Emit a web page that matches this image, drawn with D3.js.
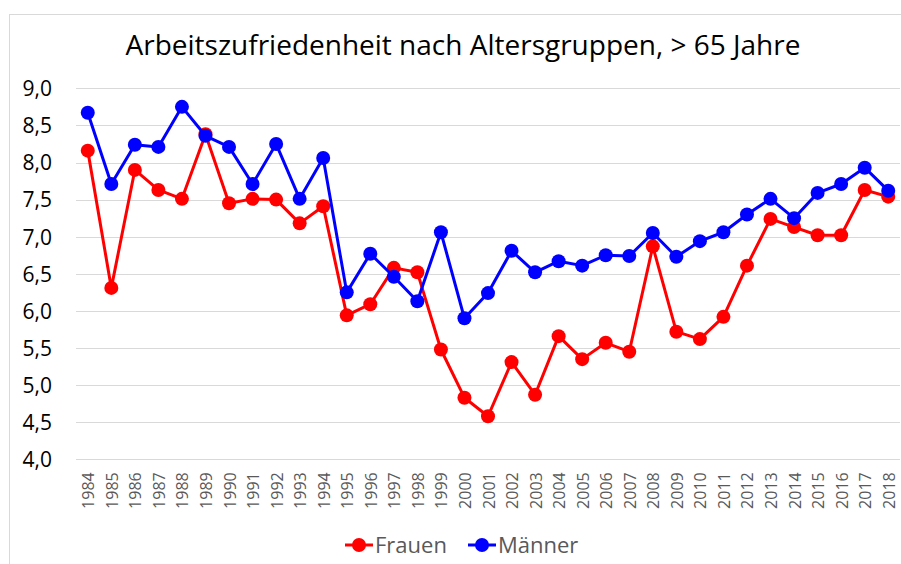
<!DOCTYPE html>
<html><head><meta charset="utf-8">
<script src="https://cdn.jsdelivr.net/npm/d3@7"></script>
<style>body{margin:0;background:#fff}svg{display:block}</style>
</head><body>
<svg id="c" width="901" height="564"></svg>
<script>
const years = [1984,1985,1986,1987,1988,1989,1990,1991,1992,1993,1994,1995,1996,1997,1998,1999,2000,2001,2002,2003,2004,2005,2006,2007,2008,2009,2010,2011,2012,2013,2014,2015,2016,2017,2018];
const frauen = [8.16,6.31,7.90,7.63,7.51,8.38,7.45,7.51,7.50,7.18,7.41,5.94,6.09,6.58,6.52,5.48,4.83,4.58,5.31,4.87,5.66,5.35,5.57,5.45,6.87,5.72,5.62,5.92,6.61,7.24,7.13,7.02,7.02,7.63,7.54];
const maenner = [8.67,7.71,8.24,8.21,8.75,8.36,8.21,7.71,8.25,7.51,8.06,6.25,6.77,6.46,6.13,7.06,5.90,6.24,6.81,6.52,6.67,6.61,6.75,6.74,7.05,6.73,6.94,7.06,7.30,7.51,7.25,7.59,7.71,7.93,7.62];
const yTicks = [4.0,4.5,5.0,5.5,6.0,6.5,7.0,7.5,8.0,8.5,9.0];
const seriesNames = ["Frauen","Männer"];
const seriesColors = ["#ff0000","#0000ff"];
const title = "Arbeitszufriedenheit nach Altersgruppen, > 65 Jahre";

const svg = d3.select("#c");
const font = "'Open Sans', sans-serif";
const L = 76, R = 900, T = 88.3, B = 459.3;

svg.append("rect").attr("x",9.5).attr("y",14.5).attr("width",1000).attr("height",1000)
  .attr("fill","none").attr("stroke","#d9d9d9").attr("stroke-width",1);

const x = d3.scalePoint().domain(years).range([L, R]).padding(0.5);
const y = d3.scaleLinear().domain([4,9]).range([B, T]);

// grid
svg.append("g").selectAll("line").data(yTicks).join("line")
  .attr("x1",L).attr("x2",R).attr("y1",d=>Math.round(y(d))+0.5).attr("y2",d=>Math.round(y(d))+0.5)
  .attr("stroke","#d9d9d9").attr("stroke-width",1);

// y axis labels
const fmt = d => d.toFixed(1).replace(".",",");
const yAxis = d3.axisLeft(y).tickValues(yTicks).tickFormat(fmt).tickSize(0).tickPadding(0);
const ya = svg.append("g").attr("transform",`translate(52,0)`).call(yAxis);
ya.select(".domain").remove();
ya.selectAll("text").attr("font-family",font).attr("font-size",21).attr("fill","#000").attr("dy","0.35em");

// x axis labels
const xAxis = d3.axisBottom(x).tickSize(0).tickPadding(0);
const xa = svg.append("g").attr("transform",`translate(0,${B})`).call(xAxis);
xa.select(".domain").remove();
xa.selectAll("text").attr("font-family",font).attr("font-size",16).attr("fill","#595959")
  .attr("text-anchor","end").attr("transform","translate(6,13) rotate(-90)").attr("dy",0).attr("y",0).attr("x",0);

// series
const data = [frauen, maenner];
const line = d3.line().x((d,i)=>x(years[i])).y(d=>y(d));
data.forEach((vals,k)=>{
  const g = svg.append("g");
  g.append("path").datum(vals).attr("d",line).attr("fill","none")
    .attr("stroke",seriesColors[k]).attr("stroke-width",3).attr("stroke-linejoin","round");
  g.selectAll("circle").data(vals).join("circle")
    .attr("cx",(d,i)=>x(years[i])).attr("cy",d=>y(d)).attr("r",7).attr("fill",seriesColors[k]);
});

// title
svg.append("text").attr("x",463).attr("y",55).attr("text-anchor","middle")
  .attr("font-family",font).attr("font-size",28).attr("fill","#000").text(title);

// legend
const lg = svg.append("g");
const lx = [345, 468];
seriesNames.forEach((n,k)=>{
  lg.append("line").attr("x1",lx[k]).attr("x2",lx[k]+28).attr("y1",545).attr("y2",545)
    .attr("stroke",seriesColors[k]).attr("stroke-width",3);
  lg.append("circle").attr("cx",lx[k]+14).attr("cy",545).attr("r",7).attr("fill",seriesColors[k]);
  lg.append("text").attr("x",lx[k]+30).attr("y",553).attr("font-family",font).attr("font-size",22)
    .attr("fill","#595959").text(n);
});
</script>
</body></html>
